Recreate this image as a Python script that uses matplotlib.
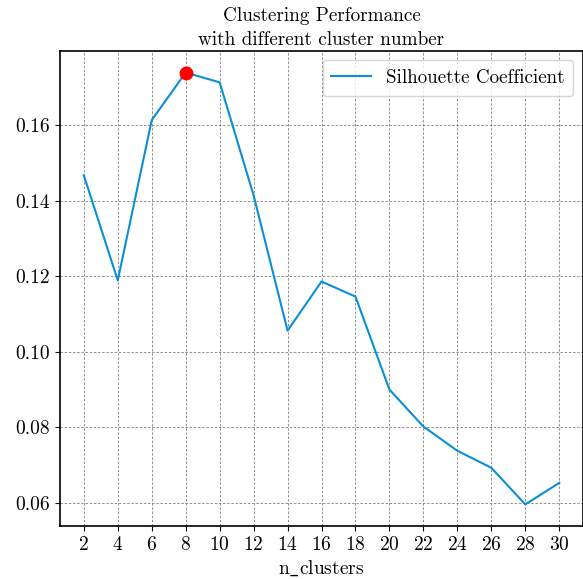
import numpy as np
import matplotlib
matplotlib.use("Agg")
import matplotlib.pyplot as plt

# Silhouette score per number of clusters
n_clusters = [2, 4, 6, 8, 10, 12, 14, 16, 18, 20, 22, 24, 26, 28, 30]
silhouette = [0.1467, 0.1189, 0.1613, 0.1739, 0.1713, 0.1414, 0.1056, 0.1186,
              0.1146, 0.0900, 0.0802, 0.0738, 0.0693, 0.0596, 0.0653]

plt.rcParams['font.family'] = 'cmr10'
plt.rcParams['mathtext.fontset'] = 'cm'
plt.rcParams['axes.formatter.use_mathtext'] = True
plt.rcParams['axes.unicode_minus'] = False

fig = plt.figure(figsize=(5.83, 5.79), dpi=100)
ax = fig.add_axes([0.103, 0.0915, 0.897, 0.8205])

ax.plot(n_clusters, silhouette, color='#0a8fd6', lw=1.5, label='Silhouette Coefficient')
best = int(np.argmax(silhouette))
ax.plot(n_clusters[best], silhouette[best], 'o', color='red', ms=9, zorder=5)

ax.set_xticks(n_clusters)
ax.set_yticks([0.06, 0.08, 0.10, 0.12, 0.14, 0.16])
ax.set_yticklabels(['0.06', '0.08', '0.10', '0.12', '0.14', '0.16'])
ax.tick_params(labelsize=14)
ax.grid(True, ls=(0, (3, 2)), color='gray', lw=0.6)

ax.set_xlabel(r'$\mathrm{n\_clusters}$', fontsize=14, labelpad=3.5)
ax.set_title('Clustering Performance\nwith different cluster number', fontsize=13.8,
             linespacing=1.45, pad=4)
ax.legend(loc='upper right', fontsize=13.7, handlelength=2.1, borderpad=0.45)
for s in ax.spines.values():
    s.set_linewidth(1.2)

fig.savefig('out.png', dpi=100)
